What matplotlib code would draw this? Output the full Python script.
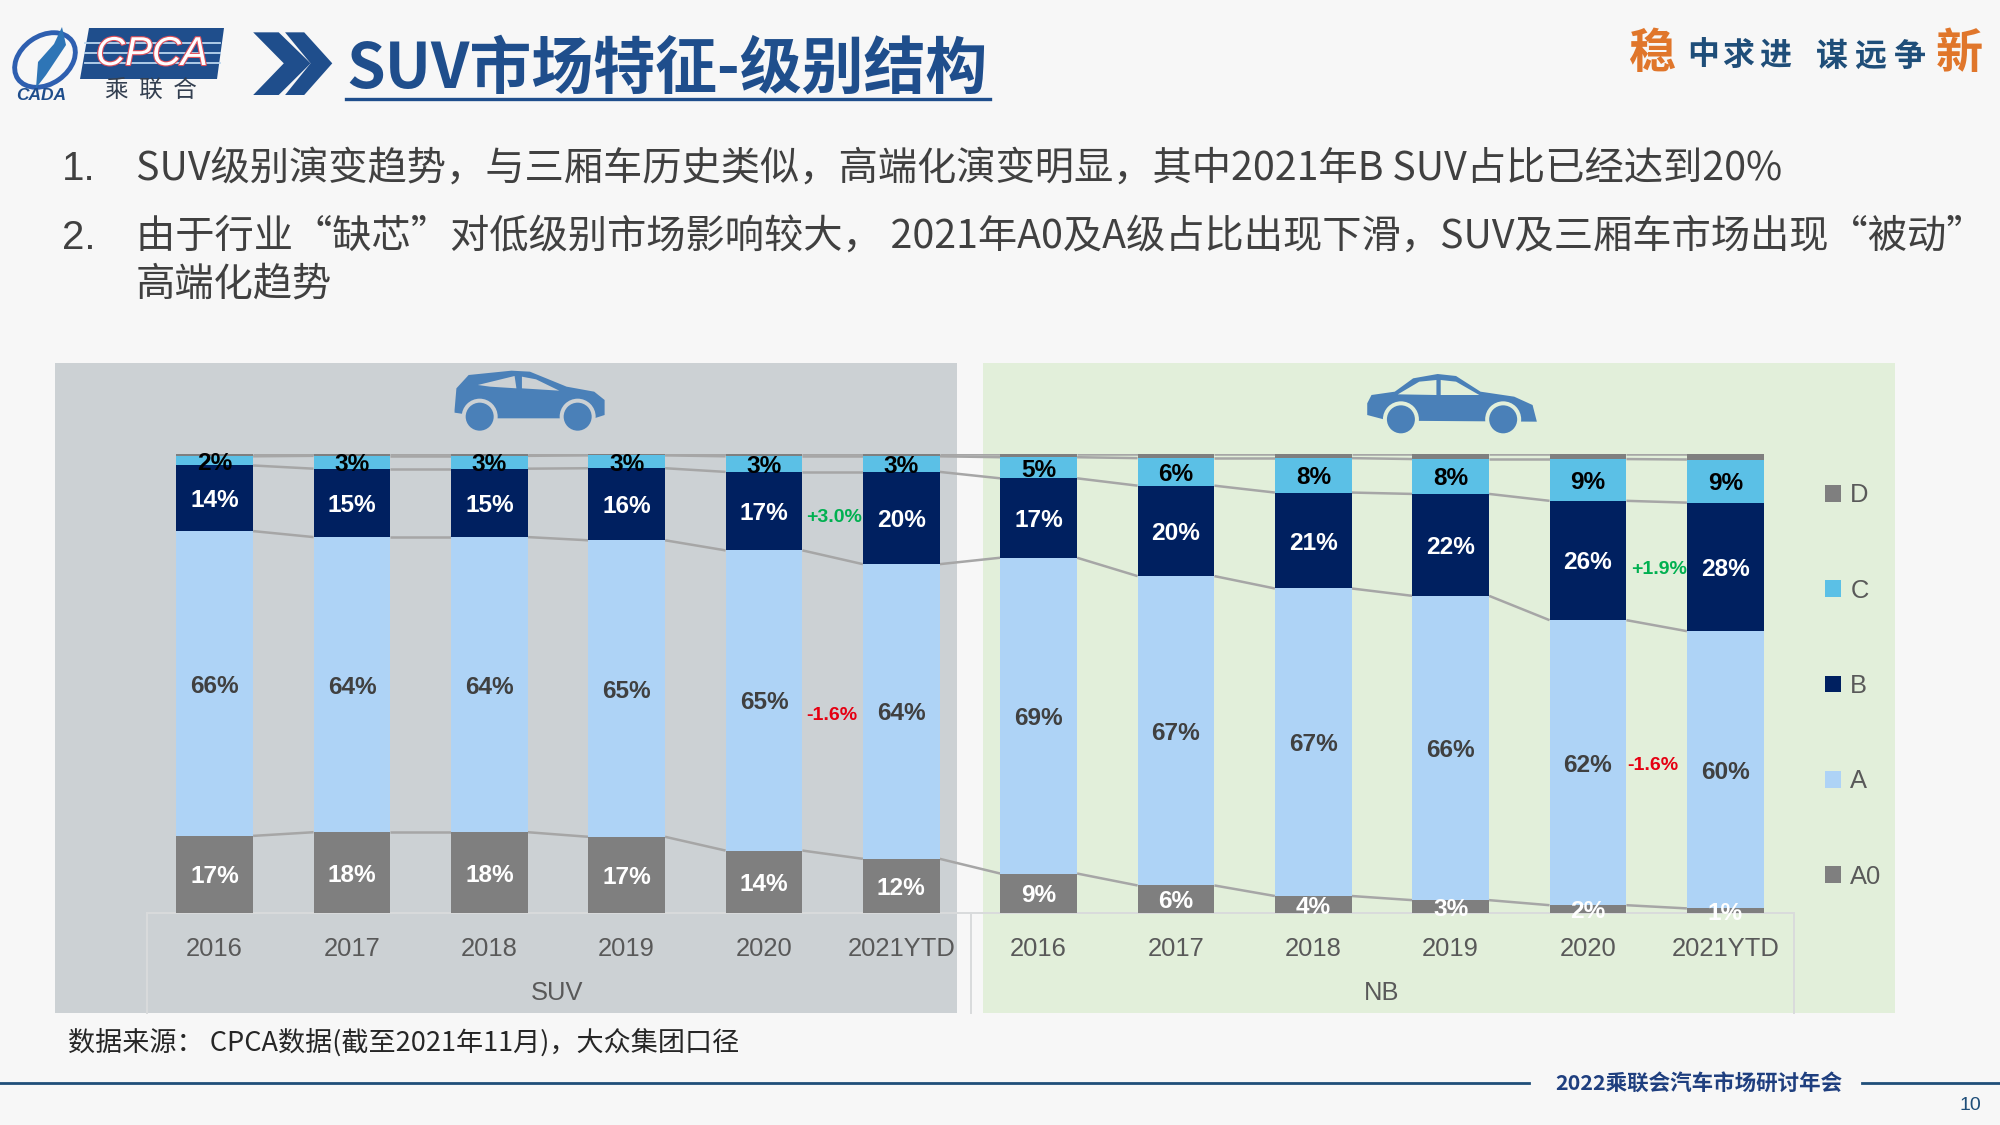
import matplotlib
matplotlib.use("Agg")
import matplotlib.pyplot as plt
import matplotlib.patheffects as pe
from matplotlib.patches import Polygon, Rectangle, Ellipse, Patch
import numpy as np

# ---------------- data ----------------
years = ["2016", "2017", "2018", "2019", "2020", "2021YTD"]
categories = years + years
series_names = ["A0", "A", "B", "C", "D"]
a0 = [16.8, 17.6, 17.6, 16.6, 13.6, 11.8, 8.6, 6.0, 3.7, 2.8, 1.7, 1.0]
a_ = [66.4, 64.3, 64.3, 64.6, 65.4, 64.2, 68.8, 67.4, 67.0, 66.3, 62.1, 60.4]
b_ = [14.3, 14.9, 14.9, 15.7, 17.1, 20.1, 17.3, 19.7, 20.9, 22.2, 26.0, 28.0]
c_ = [2.0, 2.8, 2.8, 2.8, 3.4, 3.4, 4.6, 6.0, 7.5, 7.6, 9.1, 9.4]
d_ = [0.5, 0.4, 0.4, 0.3, 0.5, 0.5, 0.7, 0.9, 0.9, 1.1, 1.1, 1.2]
values = [a0, a_, b_, c_, d_]
colors = ["#7F7F7F", "#AED3F6", "#002060", "#5BC0E6", "#7F7F7F"]
label_colors = ["white", "#404040", "white", "black", None]

group_names = ["SUV", "NB"]
title = "SUV市场特征-级别结构"
bullet1 = "SUV级别演变趋势，与三厢车历史类似，高端化演变明显，其中2021年B SUV占比已经达到20%"
bullet2 = "由于行业“缺芯”对低级别市场影响较大， 2021年A0及A级占比出现下滑，SUV及三厢车市场出现“被动”"
bullet3 = "高端化趋势"
source = "数据来源： CPCA数据(截至2021年11月)，大众集团口径"
footer = "2022乘联会汽车市场研讨年会"

CJK = ["Noto Sans CJK SC", "DejaVu Sans"]
LAT = ["Liberation Sans", "DejaVu Sans"]
NAVY = "#1F4E8C"

W, H = 2000, 1125
fig = plt.figure(figsize=(W / 100, H / 100), dpi=100, facecolor="#F7F7F7")

# ---------------- pixel-space canvas ----------------
bg = fig.add_axes([0, 0, 1, 1], zorder=0)
bg.set_xlim(0, W); bg.set_ylim(H, 0); bg.axis("off")

GRAY_P = "#CCD1D4"; GREEN_P = "#E2EFDA"
bg.add_patch(Rectangle((55, 363), 902, 650, fc=GRAY_P, ec="none"))
bg.add_patch(Rectangle((983, 363), 912, 650, fc=GREEN_P, ec="none"))

# category box
for xs, ys in [((147, 1794), (913, 913)), ((147, 147), (913, 1013)),
               ((971, 971), (913, 1013)), ((1794, 1794), (913, 1013))]:
    bg.plot(xs, ys, color="#D9DBDC", lw=1.4, zorder=2)

# header logo
def z1(pts):
    return [(x / 1.568, y / 3) for x, y in pts]

for pts in ([(397, 97), (437, 97), (487, 190), (437, 285), (397, 285), (445, 190)],
            [(447, 97), (477, 97), (521, 190), (477, 285), (447, 285), (487, 190)]):
    bg.add_patch(Polygon(z1(pts), closed=True, fc=NAVY, ec="none"))

bg.add_patch(Polygon([(89, 28), (224, 28), (217, 79), (80, 79)], closed=True, fc=NAVY, ec="none"))
for yy in (43, 53, 63):
    bg.plot([85, 220], [yy, yy], color="#BBD6EE", lw=1.3)
t = bg.text(152, 54, "CPCA", family=LAT, style="italic", fontsize=29, color="white",
            ha="center", va="center")
t.set_path_effects([pe.withStroke(linewidth=1.6, foreground="#E0505A")])
bg.text(151, 91, "乘  联  合", family=CJK, fontsize=17, color="#333F50", ha="center", va="center")
bg.text(41, 95, "CADA", family=LAT, style="italic", weight="bold", fontsize=12.5,
        color=NAVY, ha="center", va="center")
bg.add_patch(Ellipse((45, 60), 66, 48, angle=-35, fc="none", ec="#2E5FB0", lw=3.5))
bg.add_patch(Polygon([(62, 27), (66, 45), (46, 75), (36, 88), (38, 62), (54, 44)],
                     closed=True, fc="#2E75B6", ec="none"))

bg.text(346, 69, title, family=CJK, weight="bold", fontsize=44.6, color=NAVY,
        ha="left", va="center")
bg.plot([346, 990], [99, 99], color=NAVY, lw=2.4)

# slogan
for ch, x, y, fs, col in [("稳", 1652, 54, 34, "#E0762B"), ("中", 1703, 55, 23, "#1F4E79"),
                          ("求", 1738, 56, 23, "#1F4E79"), ("进", 1775, 56, 23, "#1F4E79"),
                          ("谋", 1832, 57, 23, "#1F4E79"), ("远", 1870, 57, 23, "#1F4E79"),
                          ("争", 1910, 57, 23, "#1F4E79"), ("新", 1959, 54, 34, "#E0762B")]:
    bg.text(x, y, ch, family=CJK, weight="bold", fontsize=fs, color=col, ha="center", va="center")

# bullets
TXT = "#404040"
bg.text(62, 169, "1.", family=LAT, fontsize=29, color=TXT, ha="left", va="center")
bg.text(62, 238, "2.", family=LAT, fontsize=29, color=TXT, ha="left", va="center")
bg.text(136, 169, bullet1, family=CJK, fontsize=28.3, color=TXT, ha="left", va="center")
bg.text(136, 238, bullet2, family=CJK, fontsize=28.3, color=TXT, ha="left", va="center")
bg.text(136, 284, bullet3, family=CJK, fontsize=28.3, color=TXT, ha="left", va="center")

# cars
CAR = "#4A80B8"
def car(x0, body, wins, wheels, ring):
    zz = lambda p: [(x0 + x / 1.633, 350 + y / 3) for x, y in p]
    bg.add_patch(Polygon(zz(body), closed=True, fc=CAR, ec="none", zorder=3))
    for w in wins:
        bg.add_patch(Polygon(zz(w), closed=True, fc=ring, ec="none", zorder=4))
    for (cx, cy) in zz(wheels):
        bg.add_patch(Ellipse((cx, cy), 36, 36, fc=ring, ec="none", zorder=4))
        bg.add_patch(Ellipse((cx, cy), 28, 28, fc=CAR, ec="none", zorder=5))

car(40,
    [(677, 180), (680, 115), (700, 75), (770, 62), (800, 65), (860, 110), (905, 125),
     (922, 150), (922, 195), (905, 205), (740, 205), (677, 188)],
    [[(715, 105), (775, 78), (778, 115), (735, 110)], [(787, 80), (810, 88), (848, 122), (787, 115)]],
    [(718, 200), (878, 200)], GRAY_P)
car(960,
    [(665, 160), (672, 135), (710, 125), (740, 85), (780, 72), (810, 78), (850, 125), (905, 140),
     (935, 165), (942, 215), (700, 212), (665, 195)],
    [[(715, 133), (750, 95), (778, 90), (778, 135)], [(785, 90), (810, 95), (848, 135), (785, 135)]],
    [(720, 208), (887, 208)], GREEN_P)

# source + footer
bg.text(68, 1043, source, family=CJK, fontsize=19.5, color="#262626", ha="left", va="center")
bg.plot([0, 1529], [1083, 1083], color="#1F4E79", lw=2)
bg.plot([1862, 2000], [1083, 1083], color="#1F4E79", lw=2)
bg.text(1699, 1083, footer, family=CJK, weight="bold", fontsize=15.5, color="#1F3F7F",
        ha="center", va="center")
bg.text(1970, 1105, "10", family=LAT, fontsize=14, color="#1F4E79", ha="center", va="center")

# ---------------- chart ----------------
AX_FS = 18.4
left, right, top, bottom = 146, 1794, 454, 913
ax = fig.add_axes([left / W, 1 - bottom / H, (right - left) / W, (bottom - top) / H], zorder=1)
ax.patch.set_alpha(0)
for s in ax.spines.values():
    s.set_visible(False)
ax.set_xlim(-0.5, 11.5); ax.set_ylim(0, 100)
ax.set_yticks([])
x = np.arange(len(categories))
bw = 0.56
ax.set_xticks(x, categories, family=LAT, fontsize=AX_FS, color="#595959")
ax.tick_params(axis="x", length=0, pad=17)

base = np.zeros(len(categories))
for vals, col, lc in zip(values, colors, label_colors):
    vals = np.array(vals)
    ax.bar(x, vals, bw, bottom=base, color=col, zorder=3)
    cum = base + vals
    for i in range(len(x) - 1):
        ax.plot([x[i] + bw / 2, x[i + 1] - bw / 2], [cum[i], cum[i + 1]],
                color="#A6A6A6", lw=1.8, zorder=2, solid_capstyle="butt")
    if lc:
        for xi, b, v in zip(x, base, vals):
            ax.annotate(f"{v:.0f}%", (xi, b + v / 2), xytext=(0, -1.8), textcoords="offset points",
                        family=LAT, weight="bold", fontsize=17.6, color=lc,
                        ha="center", va="center", zorder=6, annotation_clip=False)
    base = cum

# group labels
bg.text(557, 993, group_names[0], family=LAT, fontsize=AX_FS, color="#595959", ha="center", va="center")
bg.text(1382, 993, group_names[1], family=LAT, fontsize=AX_FS, color="#595959", ha="center", va="center")

# delta annotations
GREEN, RED = "#00B050", "#E60012"
for tx, px, py, col in [("+3.0%", 834, 518, GREEN), ("-1.6%", 832, 716, RED),
                        ("+1.9%", 1659, 569, GREEN), ("-1.6%", 1653, 765, RED)]:
    bg.text(px, py, tx, family=LAT, weight="bold", fontsize=14, color=col, ha="center", va="center")

# legend
handles = [Patch(fc=c, ec="none", label=n) for n, c in zip(series_names, colors)][::-1]
leg = fig.legend(handles=handles, loc="center left", bbox_to_anchor=(1825 / W, 1 - 686 / H),
                 frameon=False, prop={"family": LAT, "size": AX_FS},
                 labelcolor="#595959", labelspacing=2.79, borderpad=0, borderaxespad=0,
                 handlelength=0.64, handleheight=0.64, handletextpad=0.35)

fig.savefig("out.png", dpi=100, facecolor=fig.get_facecolor())
